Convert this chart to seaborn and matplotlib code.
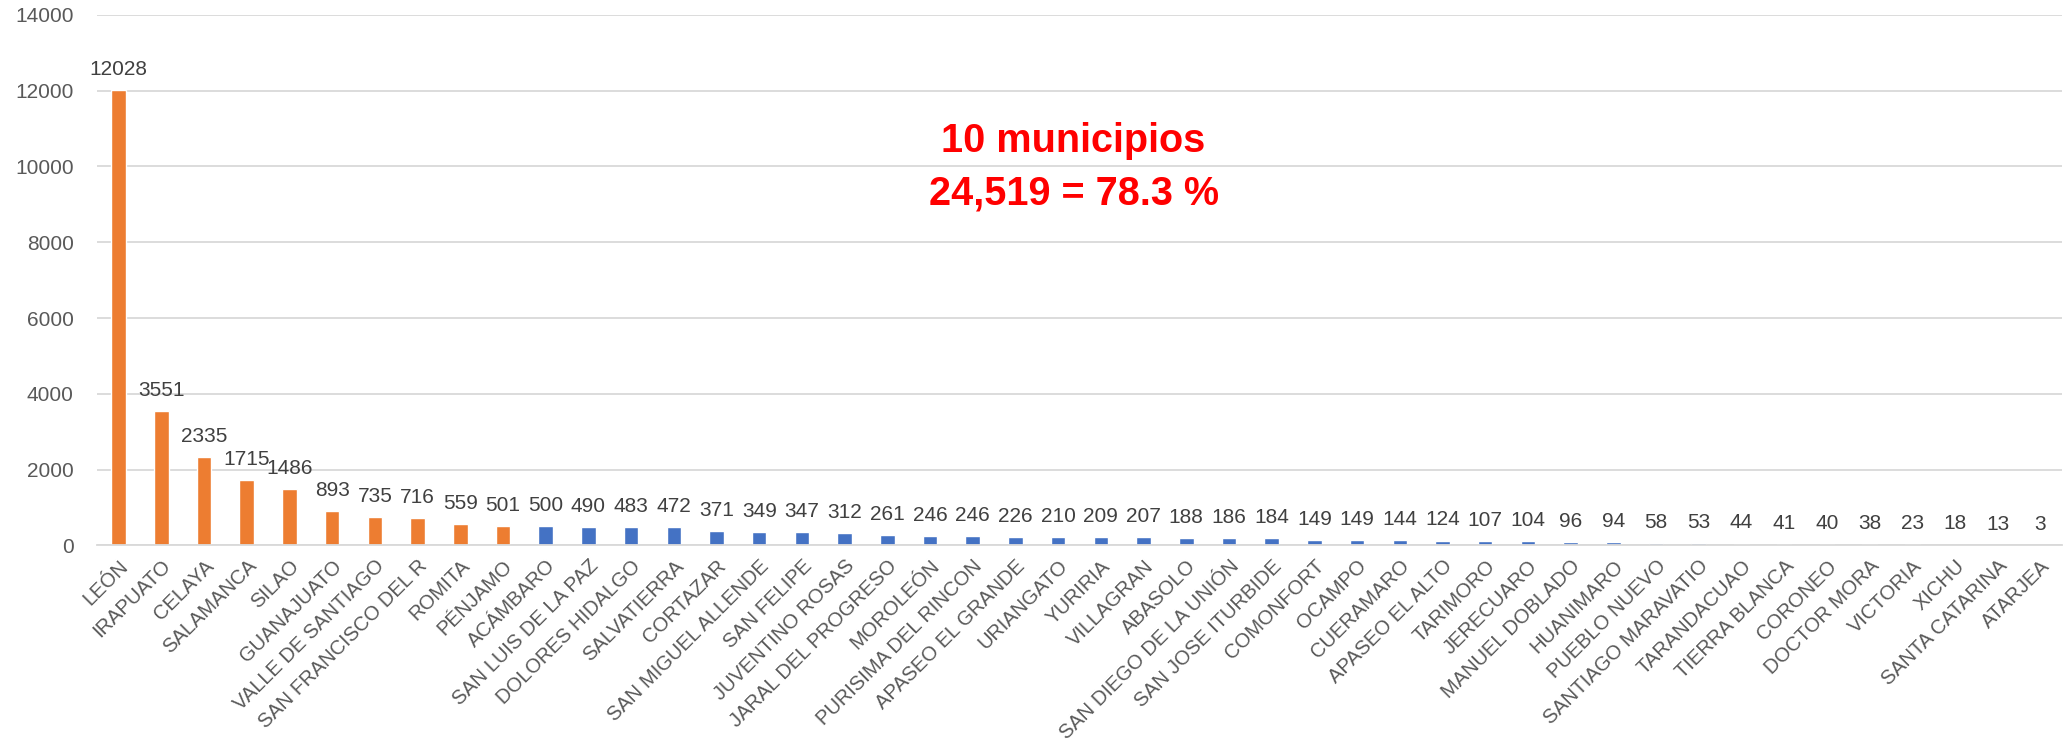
import matplotlib
matplotlib.use('Agg')
import pandas as pd
import matplotlib.pyplot as plt
import seaborn as sns

municipios = ['LEÓN', 'IRAPUATO', 'CELAYA', 'SALAMANCA', 'SILAO', 'GUANAJUATO',
              'VALLE DE SANTIAGO', 'SAN FRANCISCO DEL R', 'ROMITA', 'PÉNJAMO',
              'ACÁMBARO', 'SAN LUIS DE LA PAZ', 'DOLORES HIDALGO', 'SALVATIERRA',
              'CORTAZAR', 'SAN MIGUEL ALLENDE', 'SAN FELIPE', 'JUVENTINO ROSAS',
              'JARAL DEL PROGRESO', 'MOROLEÓN', 'PURISIMA DEL RINCON', 'APASEO EL GRANDE',
              'URIANGATO', 'YURIRIA', 'VILLAGRAN', 'ABASOLO', 'SAN DIEGO DE LA UNIÓN',
              'SAN JOSE ITURBIDE', 'COMONFORT', 'OCAMPO', 'CUERAMARO', 'APASEO EL ALTO',
              'TARIMORO', 'JERECUARO', 'MANUEL DOBLADO', 'HUANIMARO', 'PUEBLO NUEVO',
              'SANTIAGO MARAVATIO', 'TARANDACUAO', 'TIERRA BLANCA', 'CORONEO',
              'DOCTOR MORA', 'VICTORIA', 'XICHU', 'SANTA CATARINA', 'ATARJEA']
casos = [12028, 3551, 2335, 1715, 1486, 893, 735, 716, 559, 501,
         500, 490, 483, 472, 371, 349, 347, 312, 261, 246,
         246, 226, 210, 209, 207, 188, 186, 184, 149, 149,
         144, 124, 107, 104, 96, 94, 58, 53, 44, 41,
         40, 38, 23, 18, 13, 3]
top_n = 10
anotacion = '10 municipios\n24,519 = 78.3 %'

df = pd.DataFrame({'municipio': municipios, 'casos': casos})
colores = ['#ED7D31' if i < top_n else '#4472C4' for i in range(len(municipios))]

sns.set_style('white')
plt.rcParams['font.family'] = ['Liberation Sans', 'DejaVu Sans']

fig = plt.figure(figsize=(20.7, 7.49), dpi=100)
ax = fig.add_axes([0.047, 0.272, 0.949, 0.708])

sns.barplot(data=df, x='municipio', y='casos', hue='municipio', palette=colores,
            width=0.34, legend=False, ax=ax, saturation=1)

for c in ax.containers:
    ax.bar_label(c, padding=8, fontsize=15, color='#404040')

ax.set_ylim(0, 14000)
ax.set_yticks(range(0, 14001, 2000))
ax.yaxis.grid(True, color='#D9D9D9', linewidth=1.3)
ax.set_axisbelow(True)
for s in ['top', 'right', 'left']:
    ax.spines[s].set_visible(False)
ax.spines['bottom'].set_color('#D9D9D9')
ax.spines['bottom'].set_linewidth(1.3)
ax.tick_params(axis='y', length=0, labelsize=15, colors='#595959', pad=17)
ax.tick_params(axis='x', length=0, labelsize=14.5, colors='#595959', pad=8)
plt.setp(ax.get_xticklabels(), rotation=45, ha='right', rotation_mode='anchor')
ax.set_xlabel('')
ax.set_ylabel('')

ax.text(0.497, 0.713, anotacion, transform=ax.transAxes, ha='center', va='center',
        color='#FF0000', fontsize=28.5, fontweight='bold', linespacing=1.5)

fig.savefig('out.png', dpi=100)
